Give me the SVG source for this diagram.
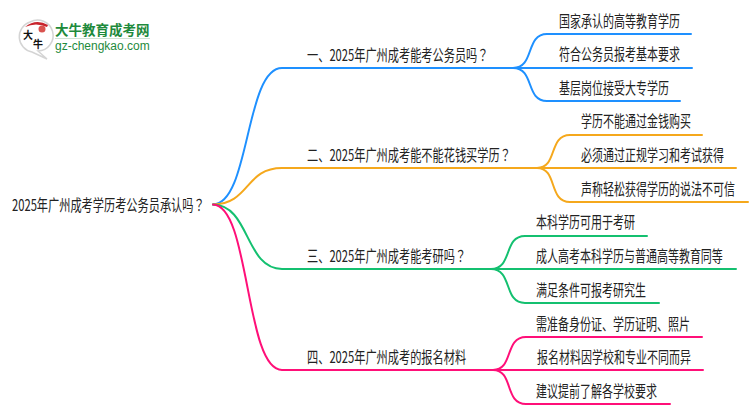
<svg xmlns="http://www.w3.org/2000/svg" width="750" height="410" viewBox="0 0 750 410">
<style>
text{font-family:"Noto Sans CJK SC","Liberation Sans",sans-serif;font-size:16px;fill:#222}
.q{font-family:"Noto Sans CJK TC","Liberation Sans",sans-serif}
.c{fill:none;stroke-width:2;stroke-linecap:round}
.b{stroke:#1e90ff}.o{stroke:#f5a81c}.g{stroke:#14c070}.p{stroke:#ff0f78}
</style>
<rect width="750" height="410" fill="#fff"/>
<g id="logo">
<path d="M30 22a15.500 15.500 0 1 1 8 29l9 8-15-7a15.500 15.500 0 0 1-2-30z" fill="#fff" stroke="#d4d4d4" stroke-width="1.500"/>
<path d="M25 27q11-9 23-2l-1 2q-11-5-22 0z" fill="#c8232c"/>
<circle cx="42" cy="29" r="3.500" fill="#d9534f"/>
<text x="23" y="39" style="font-size:10px;fill:#111;font-weight:700">大</text>
<text x="33" y="48" style="font-size:10px;fill:#111;font-weight:700">牛</text>
<text transform="translate(55 35)" style="font-size:13.500px;font-weight:700;fill:#1e8a3c">大牛教育成考网</text>
<rect x="55" y="38" width="95" height="1" fill="#cfe3d4"/>
<text x="55" y="50" style="font-family:'Liberation Sans',sans-serif;font-size:12px;fill:#1e8a3c">gz-chengkao.com</text>
</g>
<g id="connectors">
<path class="c b" d="M213 204.500C250 204 245 68 282 68H513"/>
<path class="c o" d="M213 204.500C250 204 245 168 282 168H537"/>
<path class="c g" d="M213 204.500C250 205 245 269 282 269H491"/>
<path class="c p" d="M213 204.500C250 205 245 370 282 370H493"/>
<path class="c b" d="M513 68C535 68 525 34 547 34H691M513 68H692M513 68C535 68 525 101 547 101H680"/>
<path class="c o" d="M537 168C558 168 548 135 570 135H702M537 168H736M537 168C558 168 548 202 570 202H748"/>
<path class="c g" d="M491 269C513 269 503 236 525 236H647M491 269H736M491 269C513 269 503 303 525 303H659"/>
<path class="c p" d="M493 370C514 370 504 337 526 337H702M493 370H703M493 370C514 370 504 404 526 404H670"/>
</g>
<g id="root"><text transform="translate(12 211) scale(.7 1)">2025年广州成考学历考公务员承认吗<tspan class="q">？</tspan></text></g>
<g id="n1"><text transform="translate(307 61) scale(.7 1)">一、2025年广州成考能考公务员吗<tspan class="q">？</tspan></text></g>
<g id="n2"><text transform="translate(307 161) scale(.7 1)">二、2025年广州成考能不能花钱买学历<tspan class="q">？</tspan></text></g>
<g id="n3"><text transform="translate(307 262) scale(.7 1)">三、2025年广州成考能考研吗<tspan class="q">？</tspan></text></g>
<g id="n4"><text transform="translate(307 363) scale(.7 1)">四、2025年广州成考的报名材料</text></g>
<g id="n1a"><text transform="translate(559 27) scale(.6875 1)">国家承认的高等教育学历</text></g>
<g id="n1b"><text transform="translate(559 60) scale(.6875 1)">符合公务员报考基本要求</text></g>
<g id="n1c"><text transform="translate(559 94) scale(.6875 1)">基层岗位接受大专学历</text></g>
<g id="n2a"><text transform="translate(581 127) scale(.6875 1)">学历不能通过金钱购买</text></g>
<g id="n2b"><text transform="translate(581 161) scale(.6875 1)">必须通过正规学习和考试获得</text></g>
<g id="n2c"><text transform="translate(581 195) scale(.6875 1)">声称轻松获得学历的说法不可信</text></g>
<g id="n3a"><text transform="translate(536 228) scale(.6875 1)">本科学历可用于考研</text></g>
<g id="n3b"><text transform="translate(536 262) scale(.6875 1)">成人高考本科学历与普通高等教育同等</text></g>
<g id="n3c"><text transform="translate(536 296) scale(.6875 1)">满足条件可报考研究生</text></g>
<g id="n4a"><text transform="translate(536 330) scale(.6875 1)">需准备身份证、学历证明、照片</text></g>
<g id="n4b"><text transform="translate(537 363) scale(.6875 1)">报名材料因学校和专业不同而异</text></g>
<g id="n4c"><text transform="translate(536 397) scale(.6875 1)">建议提前了解各学校要求</text></g>
</svg>
